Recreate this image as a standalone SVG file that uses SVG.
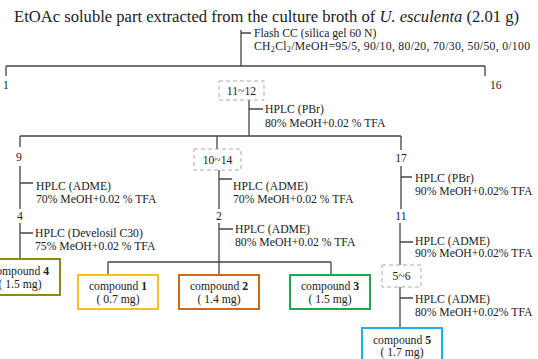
<svg xmlns="http://www.w3.org/2000/svg" width="538" height="359" viewBox="0 0 538 359">
<style>
text{font-family:"Liberation Serif","Times New Roman",serif;fill:#222;font-size:11.7px}
.t{font-size:16.6px}
.c{text-anchor:middle}
.ln{stroke:#444;stroke-width:1.3;fill:none}
.dash{fill:#fff;stroke:#aaa;stroke-width:1;stroke-dasharray:4,3}
.box{fill:#fff;stroke-width:2}
</style>
<rect width="538" height="359" fill="#fff"/>
<text class="t" x="14" y="22">EtOAc soluble part extracted from the culture broth of <tspan font-style="italic">U. esculenta</tspan> (2.01 g)</text>
<g id="connectors">
<path class="ln" d="M241,30V66M241,33H251M6,66H485M6,66V76M485,66V76"/>
<path class="ln" d="M249,100V136M249,109H263M20,136H401M20,136V147M217,136V149M401,136V150"/>
<path class="ln" d="M20,166V209M20,183H33M219,170V209M219,179H232M401,166V209M401,177H412"/>
<path class="ln" d="M20,223V259M20,233H33M219,223V275M219,229H233M108,262H331M108,262V275M331,262V275"/>
<path class="ln" d="M400,223V265M400,242H413M400,287V328M400,298H413"/>
</g>
<g id="step1"><text x="254" y="37">Flash CC (silica gel 60 N)</text><text x="254" y="50" textLength="276" lengthAdjust="spacing">CH<tspan font-size="8" dy="2">2</tspan><tspan dy="-2">Cl</tspan><tspan font-size="8" dy="2">2</tspan><tspan dy="-2">/MeOH=95/5, 90/10, 80/20, 70/30, 50/50, 0/100</tspan></text></g>
<g id="fr1"><text x="3" y="89">1</text></g>
<g id="fr16"><text x="490" y="89">16</text></g>
<g id="fr11-12"><rect class="dash" x="219" y="81" width="45" height="19"/><text class="c" x="241.5" y="94.5">11~12</text></g>
<g id="step2"><text x="265" y="113">HPLC (PBr)</text><text x="265" y="127">80% MeOH+0.02 % TFA</text></g>
<g id="fr9"><text class="c" x="19" y="161">9</text></g>
<g id="fr10-14"><rect class="dash" x="194" y="149" width="47" height="21"/><text class="c" x="217.5" y="164">10~14</text></g>
<g id="fr17"><text class="c" x="401" y="162">17</text></g>
<g id="step3a"><text x="36" y="190">HPLC (ADME)</text><text x="36" y="203">70% MeOH+0.02 % TFA</text></g>
<g id="step3b"><text x="233" y="190">HPLC (ADME)</text><text x="233" y="203">70% MeOH+0.02 % TFA</text></g>
<g id="step3c"><text x="415" y="182">HPLC (PBr)</text><text x="415" y="195">90% MeOH+0.02% TFA</text></g>
<g id="fr4"><text class="c" x="20" y="220">4</text></g>
<g id="fr2"><text class="c" x="219" y="220">2</text></g>
<g id="fr11"><text class="c" x="401" y="220">11</text></g>
<g id="step4a"><text x="35" y="237">HPLC (Develosil C30)</text><text x="35" y="250">75% MeOH+0.02 % TFA</text></g>
<g id="step4b"><text x="235" y="233">HPLC (ADME)</text><text x="235" y="246">80% MeOH+0.02 % TFA</text></g>
<g id="step4c"><text x="415" y="245">HPLC (ADME)</text><text x="415" y="257">90% MeOH+0.02% TFA</text></g>
<g id="fr5-6"><rect class="dash" x="382" y="265" width="39" height="22"/><text class="c" x="401.5" y="280">5~6</text></g>
<g id="step5"><text x="415" y="303">HPLC (ADME)</text><text x="415" y="316">80% MeOH+0.02% TFA</text></g>
<g id="compound4"><rect class="box" x="-20" y="259" width="80" height="36" stroke="#8a8a1c"/><text class="c" x="20" y="275">compound <tspan font-weight="bold">4</tspan></text><text class="c" x="20" y="288">( 1.5 mg)</text></g>
<g id="compound1"><rect class="box" x="78" y="275" width="80" height="34" stroke="#f5c21b"/><text class="c" x="118" y="290">compound <tspan font-weight="bold">1</tspan></text><text class="c" x="118" y="303">( 0.7 mg)</text></g>
<g id="compound2"><rect class="box" x="179" y="275" width="80" height="34" stroke="#cc6a1c"/><text class="c" x="219" y="290">compound <tspan font-weight="bold">2</tspan></text><text class="c" x="219" y="303">( 1.4 mg)</text></g>
<g id="compound3"><rect class="box" x="290" y="275" width="80" height="34" stroke="#1aab52"/><text class="c" x="330" y="290">compound <tspan font-weight="bold">3</tspan></text><text class="c" x="330" y="303">( 1.5 mg)</text></g>
<g id="compound5"><rect class="box" x="362" y="328" width="80" height="36" stroke="#1cb0e8"/><text class="c" x="402" y="344">compound <tspan font-weight="bold">5</tspan></text><text class="c" x="402" y="356">( 1.7 mg)</text></g>
</svg>
